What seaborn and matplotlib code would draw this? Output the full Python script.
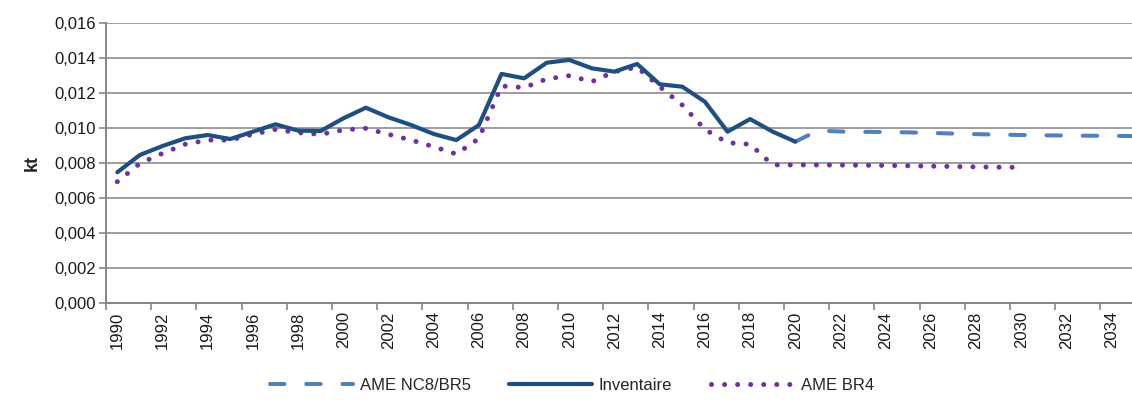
import numpy as np
import pandas as pd
import matplotlib
matplotlib.use("Agg")
import matplotlib.pyplot as plt
from matplotlib.ticker import FuncFormatter
import seaborn as sns

# Données (kt)
years_inv = list(range(1990, 2021))
inventaire = [0.00747, 0.00846, 0.00897, 0.00941, 0.00960, 0.00937, 0.00979,
              0.01021, 0.00985, 0.00983, 0.01055, 0.01116, 0.01061, 0.01017,
              0.00966, 0.00931, 0.01017, 0.01309, 0.01284, 0.01373, 0.01389,
              0.01341, 0.01322, 0.01366, 0.01250, 0.01236, 0.01150, 0.00979,
              0.01051, 0.00979, 0.00922]

years_nc8 = list(range(2020, 2036))
ame_nc8 = [0.00922, 0.00985, 0.00980, 0.00978, 0.00977, 0.00975, 0.00972,
           0.00968, 0.00965, 0.00962, 0.00960, 0.00958, 0.00957, 0.00956,
           0.00955, 0.00954]

years_br4 = list(range(1990, 2031))
ame_br4 = [0.00693, 0.00798, 0.00855, 0.00907, 0.00931, 0.00931, 0.00964,
           0.00992, 0.00973, 0.00964, 0.00989, 0.00998, 0.00964, 0.00931,
           0.00893, 0.00851, 0.00940, 0.01240, 0.01231, 0.01280, 0.01299,
           0.01265, 0.01322, 0.01347, 0.01236, 0.01131, 0.00992, 0.00916,
           0.00907, 0.00789, 0.00789, 0.00789, 0.00788, 0.00787, 0.00786,
           0.00784, 0.00782, 0.00780, 0.00778, 0.00776, 0.00775]

tick_years = list(range(1990, 2036, 2))

sns.set_theme(style="white")
plt.rcParams["font.family"] = ["Liberation Sans", "DejaVu Sans"]

fig = plt.figure(figsize=(11.32, 4.08), dpi=100)
ax = fig.add_axes([106 / 1132, 1 - 303 / 408, 1 - 106 / 1132, (303 - 23) / 408])

df_nc8 = pd.DataFrame({"annee": years_nc8, "kt": ame_nc8})
df_inv = pd.DataFrame({"annee": years_inv, "kt": inventaire})
df_br4 = pd.DataFrame({"annee": years_br4, "kt": ame_br4})

sns.lineplot(data=df_nc8, x="annee", y="kt", ax=ax, color="#4F81BD", lw=2.9,
             label="AME NC8/BR5", zorder=3)
ax.lines[-1].set_linestyle((0, (3.6, 5.4)))
ax.lines[-1].set_dash_capstyle("round")

sns.lineplot(data=df_inv, x="annee", y="kt", ax=ax, color="#1F4E82", lw=3.0,
             label="Inventaire", zorder=4)
ax.lines[-1].set_solid_capstyle("round")

sns.lineplot(data=df_br4, x="annee", y="kt", ax=ax, color="#7030A0", lw=3.6,
             label="AME BR4", zorder=2)
ax.lines[-1].set_linestyle((0, (0.01, 2.6)))
ax.lines[-1].set_dash_capstyle("round")

ax.set_xlim(1989.5, 1989.5 + (1132 - 106) / 22.6)
ax.set_ylim(0, 0.016)
ax.set_yticks(np.arange(0, 0.0161, 0.002))
ax.yaxis.set_major_formatter(FuncFormatter(lambda v, p: f"{v:.3f}".replace(".", ",")))

ax.set_xticks(tick_years)
ax.set_xticklabels([str(y) for y in tick_years], rotation=90)
ax.set_xticks([y - 0.5 for y in tick_years], minor=True)
ax.tick_params(axis="x", which="major", length=0, pad=6, labelsize=12, colors="#1a1a1a")
ax.tick_params(axis="x", which="minor", length=5, width=1.2, color="#868686", bottom=True)
ax.tick_params(axis="y", length=5, width=1.2, color="#868686", left=True,
               labelsize=12, labelcolor="#1a1a1a", pad=2)

ax.grid(axis="y", color="#8c8c8c", lw=1.2)
ax.set_axisbelow(True)
for side in ["top", "right"]:
    ax.spines[side].set_visible(False)
for side in ["left", "bottom"]:
    ax.spines[side].set_color("#868686")
    ax.spines[side].set_linewidth(1.4)

ax.set_xlabel("")
ax.set_ylabel("kt", fontsize=13, fontweight="bold", labelpad=10)

ax.legend(loc="lower center", bbox_to_anchor=(0.505, 0.0), bbox_transform=fig.transFigure,
          ncol=3, frameon=False, fontsize=12, handlelength=5.0, handletextpad=0.4,
          columnspacing=2.3)

fig.savefig("out.png", dpi=100)
